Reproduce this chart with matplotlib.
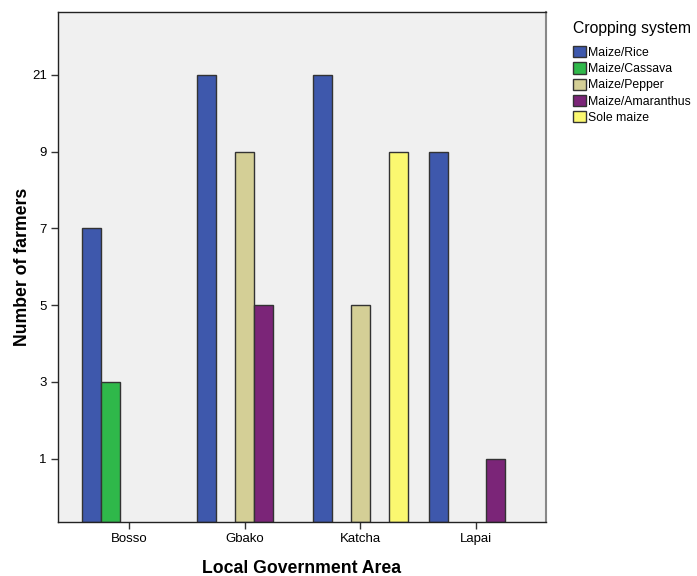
import numpy as np
import matplotlib.pyplot as plt
from matplotlib.patches import Patch

plt.rcParams['font.family'] = ['Liberation Sans', 'DejaVu Sans']

# Data
areas = ["Bosso", "Gbako", "Katcha", "Lapai"]
systems = ["Maize/Rice", "Maize/Cassava", "Maize/Pepper", "Maize/Amaranthus", "Sole maize"]
tick_values = [1, 3, 5, 7, 9, 21]  # the axis is ordinal, equally spaced
maize_rice = [7, 21, 21, 9]
maize_cassava = [3, None, None, None]
maize_pepper = [None, 9, 5, None]
maize_amaranthus = [None, 5, None, 1]
sole_maize = [None, None, 9, None]

colors = ["#3E58AC", "#2FB84A", "#D4CF96", "#7B2578", "#FBF870"]

series = [maize_rice, maize_cassava, maize_pepper, maize_amaranthus, sole_maize]

fig = plt.figure(figsize=(6.97, 5.76), dpi=100)
ax = fig.add_axes([0.0832, 0.09375, 0.7002, 0.8854])
ax.set_facecolor("#F0F0F0")

ymin, ymax = -0.825, 5.82
width = 0.164
x = np.arange(len(areas))
for i, (vals, col) in enumerate(zip(series, colors)):
    for j, v in enumerate(vals):
        if v is None:
            continue
        pos = tick_values.index(v)
        ax.bar(x[j] + (i - 2) * width, pos - ymin, bottom=ymin, width=width,
               color=col, edgecolor="#333333", linewidth=1.0, zorder=2)

ax.set_xlim(-0.614, 3.605)
ax.set_ylim(ymin, ymax)
ax.set_xticks(x)
ax.set_xticklabels(areas, fontsize=9.5)
ax.set_yticks(range(len(tick_values)))
ax.set_yticklabels([str(t) for t in tick_values], fontsize=9.5)
ax.tick_params(axis="both", direction="out", length=5, width=1, color="#333333", pad=3)

for side in ["left", "bottom", "top"]:
    ax.spines[side].set_color("#222222")
    ax.spines[side].set_linewidth(1.0)
ax.spines["right"].set_color("#888888")
ax.spines["right"].set_linewidth(1.5)

ax.set_ylabel("Number of farmers", fontsize=12.7, fontweight="bold", va="center")
ax.yaxis.set_label_coords(-0.073, 0.5)
ax.set_xlabel("Local Government Area", fontsize=12.7, fontweight="bold", va="center")
ax.xaxis.set_label_coords(0.5, -0.092)

# legend title drawn separately so the gap to the entries matches
fig.text(0.822, 0.951, "Cropping system", fontsize=11.3, ha="left", va="center")
handles = [Patch(facecolor=c, edgecolor="#333333", label=s) for s, c in zip(systems, colors)]
leg = fig.legend(handles=handles, loc="upper left",
                 bbox_to_anchor=(0.808, 0.937), frameon=False, fontsize=8.8,
                 handlelength=1.05, handleheight=1.05,
                 handletextpad=0.15, labelspacing=0.28, borderpad=0.3)

fig.savefig("out.png", dpi=100)
